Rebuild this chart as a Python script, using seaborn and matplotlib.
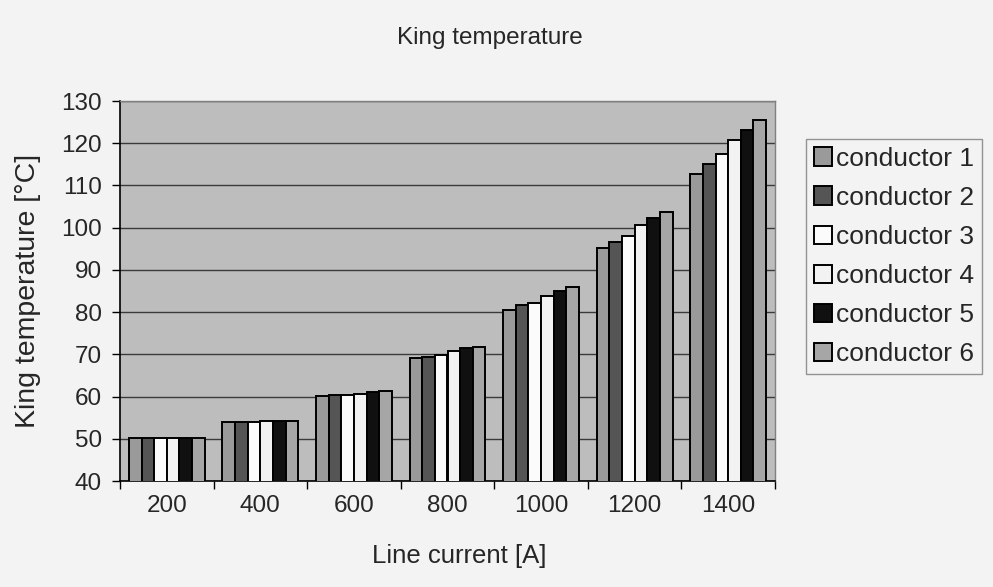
import numpy as np
import pandas as pd
import matplotlib
matplotlib.use("Agg")
import matplotlib.pyplot as plt
import seaborn as sns

# Line current levels [A]
currents = ["200", "400", "600", "800", "1000", "1200", "1400"]

# King temperature [°C] per conductor
conductor_1 = [50.1, 53.9, 60.2, 69.1, 80.6, 95.1, 112.6]
conductor_2 = [50.1, 54.0, 60.3, 69.3, 81.6, 96.6, 115.1]
conductor_3 = [50.1, 54.0, 60.4, 69.9, 82.2, 98.0, 117.5]
conductor_4 = [50.1, 54.1, 60.7, 70.7, 83.8, 100.6, 120.8]
conductor_5 = [50.2, 54.2, 61.1, 71.4, 85.1, 102.2, 123.1]
conductor_6 = [50.2, 54.3, 61.4, 71.8, 86.0, 103.7, 125.5]

series_names = ["conductor 1", "conductor 2", "conductor 3",
                "conductor 4", "conductor 5", "conductor 6"]
series_values = [conductor_1, conductor_2, conductor_3,
                 conductor_4, conductor_5, conductor_6]

rows = []
for name, vals in zip(series_names, series_values):
    for cur, v in zip(currents, vals):
        rows.append({"current": cur, "conductor": name, "temp": v})
df = pd.DataFrame(rows)

palette = ["#9a9a9a", "#555555", "#fbfbfb", "#f2f2f2", "#101010", "#a6a6a6"]

sns.set_style("white")
plt.rcParams["font.family"] = ["Liberation Sans", "DejaVu Sans"]

fig = plt.figure(figsize=(9.93, 5.87), dpi=100, facecolor="#f3f3f3")
ax = fig.add_axes([120 / 993, 1 - 481 / 587, (775 - 120) / 993, (481 - 101) / 587])
ax.set_facecolor("#bdbdbd")

sns.barplot(data=df, x="current", y="temp", hue="conductor",
            order=currents, hue_order=series_names, palette=palette,
            width=0.81, edgecolor="black", linewidth=1.4,
            saturation=1, ax=ax, zorder=3)

ax.set_ylim(40, 130)
ax.set_yticks(np.arange(40, 131, 10))
ax.set_xlim(-0.5, len(currents) - 0.5)
ax.yaxis.grid(True, color="#3a3a3a", linewidth=1.0, zorder=0)
ax.set_axisbelow(True)

# category boundary ticks on the x axis
ax.set_xticks(np.arange(-0.5, len(currents), 1.0), minor=True)
ax.tick_params(axis="x", which="major", length=0, pad=10, labelsize=17.5)
ax.tick_params(axis="x", which="minor", length=6, width=1, direction="out",
               color="black", bottom=True)
ax.tick_params(axis="y", which="major", length=6, width=1, direction="out",
               color="black", left=True, pad=7, labelsize=17.5)

for side in ["left", "bottom"]:
    ax.spines[side].set_color("black")
    ax.spines[side].set_linewidth(1.2)
for side in ["top", "right"]:
    ax.spines[side].set_color("#808080")
    ax.spines[side].set_linewidth(1.0)

ax.set_xlabel("Line current [A]", fontsize=18.5)
ax.xaxis.set_label_coords(0.518, -0.165)
ax.set_ylabel("King temperature [°C]", fontsize=20.5)
ax.yaxis.set_label_coords(-0.12, 0.5)
fig.text(490 / 993, 1 - 38 / 587, "King temperature", fontsize=17.5,
         ha="center", va="center")

handles, labels = ax.get_legend_handles_labels()
if ax.legend_:
    ax.legend_.remove()
leg = fig.legend(handles, labels, loc="upper left",
                 bbox_to_anchor=(806 / 993, 1 - 139 / 587),
                 frameon=True, fancybox=False, fontsize=19,
                 handlelength=0.7, handleheight=0.7, handletextpad=0.15,
                 labelspacing=0.57, borderpad=0.3, borderaxespad=0)
leg.get_frame().set_edgecolor("#7a7a7a")
leg.get_frame().set_facecolor("#f3f3f3")
leg.get_frame().set_linewidth(1.0)
for h in leg.legend_handles:
    h.set_edgecolor("black")
    h.set_linewidth(1.4)

fig.savefig("out.png", dpi=100, facecolor=fig.get_facecolor())
